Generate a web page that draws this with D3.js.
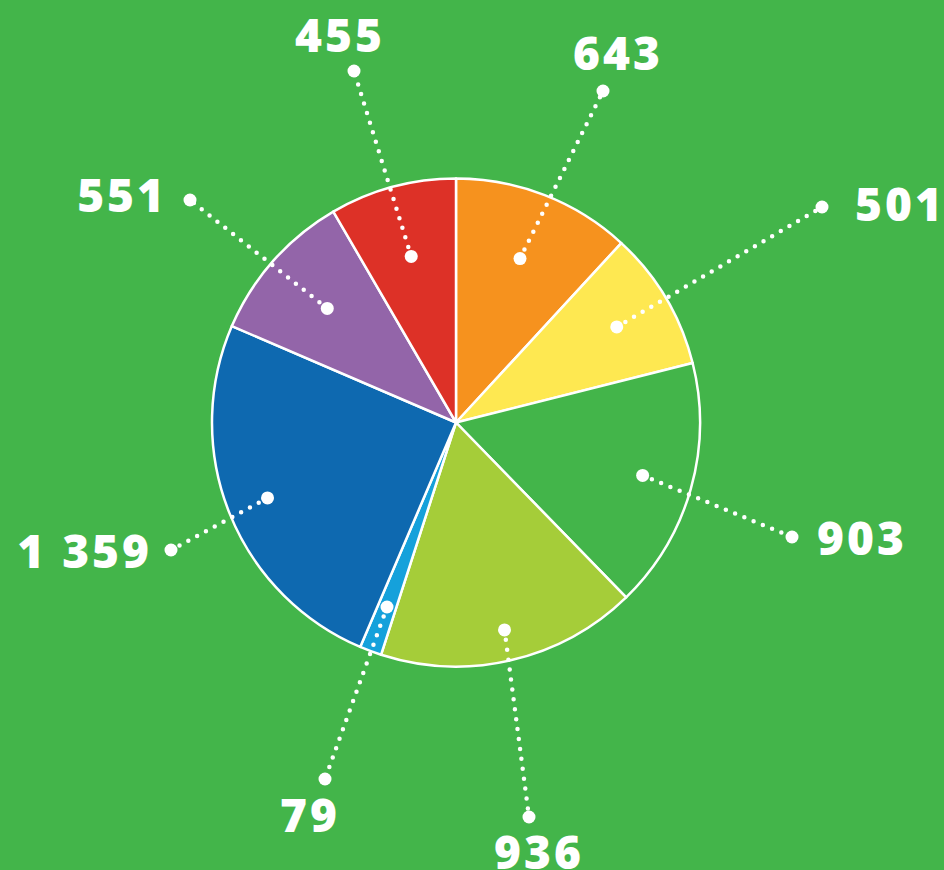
<!DOCTYPE html>
<html>
<head>
<meta charset="utf-8">
<script src="https://cdn.jsdelivr.net/npm/d3@7"></script>
<style>
  html, body { margin: 0; padding: 0; background: #43b54a; }
  svg { display: block; }
  .pie-label { font-family: "Open Sans", "DejaVu Sans", sans-serif; font-weight: 800; fill: #fff; }
</style>
</head>
<body>
<div id="chart"></div>
<script>
// --- data ---
const categories = ['orange', 'yellow', 'green', 'lime', 'cyan', 'blue', 'purple', 'red'];
const values = [643, 501, 903, 936, 79, 1359, 551, 455];
const colours = ['#f6921e', '#fee851', '#43b54a', '#a5cd39', '#15a1db', '#0e69b0', '#9365a9', '#dd3127'];

// label callouts: radius of inner dot, outer dot, text anchor point
const labelLayout = [
  { r: 176, ox: 603, oy: 91, tx: 618, ty: 70, anchor: 'middle' },
  { r: 187, ox: 822, oy: 207, tx: 855, ty: 221, anchor: 'start' },
  { r: 194, ox: 792, oy: 537, tx: 817, ty: 555, anchor: 'start' },
  { r: 213, ox: 529, oy: 817, tx: 539, ty: 869, anchor: 'middle' },
  { r: 197, ox: 325, oy: 779, tx: 310, ty: 832, anchor: 'middle' },
  { r: 203, ox: 171, oy: 550, tx: 152, ty: 568, anchor: 'end' },
  { r: 172, ox: 190, oy: 200, tx: 167, ty: 212, anchor: 'end' },
  { r: 172, ox: 354, oy: 71, tx: 340, ty: 52, anchor: 'middle' }
];

const width = 944, height = 870;
const cx = 456, cy = 422.5, radius = 244;

const data = categories.map((c, i) => ({ key: c, value: values[i], colour: colours[i], layout: labelLayout[i] }));

const fmt = d3.formatLocale({ decimal: '.', thousands: ' ', grouping: [3], currency: ['', ''] }).format(',d');

const svg = d3.select('#chart')
  .append('svg')
  .attr('width', width)
  .attr('height', height);

svg.append('rect')
  .attr('width', width)
  .attr('height', height)
  .attr('fill', '#43b54a');

const pie = d3.pie()
  .sort(null)
  .value(d => d.value);

const arc = d3.arc()
  .innerRadius(0)
  .outerRadius(radius);

const arcs = pie(data);

const g = svg.append('g')
  .attr('transform', `translate(${cx},${cy})`);

g.selectAll('path.slice')
  .data(arcs)
  .enter().append('path')
  .attr('class', 'slice')
  .attr('d', arc)
  .attr('fill', d => d.data.colour)
  .attr('stroke', '#fff')
  .attr('stroke-width', 2.5)
  .attr('stroke-linejoin', 'round');

// inner dot sits on the slice's mid angle
const innerPoint = d => {
  const a = (d.startAngle + d.endAngle) / 2;
  const r = d.data.layout.r;
  return [cx + r * Math.sin(a), cy - r * Math.cos(a)];
};

const callouts = svg.append('g').attr('class', 'callouts');

callouts.selectAll('line')
  .data(arcs)
  .enter().append('line')
  .attr('x1', d => innerPoint(d)[0])
  .attr('y1', d => innerPoint(d)[1])
  .attr('x2', d => d.data.layout.ox)
  .attr('y2', d => d.data.layout.oy)
  .attr('stroke', '#fff')
  .attr('stroke-width', 4.5)
  .attr('stroke-linecap', 'round')
  .attr('stroke-dasharray', '0,10');

callouts.selectAll('circle.inner')
  .data(arcs)
  .enter().append('circle')
  .attr('class', 'inner')
  .attr('cx', d => innerPoint(d)[0])
  .attr('cy', d => innerPoint(d)[1])
  .attr('r', 6.5)
  .attr('fill', '#fff');

callouts.selectAll('circle.outer')
  .data(arcs)
  .enter().append('circle')
  .attr('class', 'outer')
  .attr('cx', d => d.data.layout.ox)
  .attr('cy', d => d.data.layout.oy)
  .attr('r', 6.5)
  .attr('fill', '#fff');

svg.selectAll('text.pie-label')
  .data(data)
  .enter().append('text')
  .attr('class', 'pie-label')
  .attr('x', d => d.layout.tx)
  .attr('y', d => d.layout.ty)
  .attr('text-anchor', d => d.layout.anchor)
  .style('font-size', '46px')
  .style('letter-spacing', '3px')
  .text(d => fmt(d.value));
</script>
</body>
</html>
